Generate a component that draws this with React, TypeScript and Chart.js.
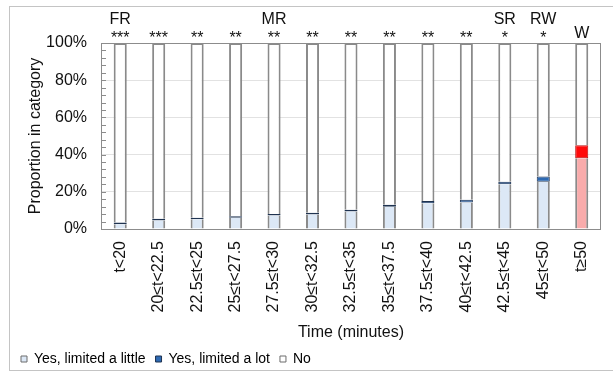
import React, { useEffect, useRef } from 'react';
import { Chart, registerables } from 'chart.js';

Chart.register(...registerables);

const categories = [
  't<20', '20≤t<22.5', '22.5≤t<25', '25≤t<27.5', '27.5≤t<30', '30≤t<32.5',
  '32.5≤t<35', '35≤t<37.5', '37.5≤t<40', '40≤t<42.5', '42.5≤t<45', '45≤t<50', 't≥50',
];
const limitedLittle = [2.6, 4.6, 5.2, 6.0, 7.3, 7.8, 9.4, 12.0, 13.8, 14.3, 24.0, 25.4, 38.0];
const limitedLot = [0.9, 0.9, 0.8, 0.8, 0.7, 0.9, 0.9, 1.1, 1.3, 1.4, 1.4, 2.8, 7.0];
const noLimit = categories.map((_, i) => 100 - limitedLittle[i] - limitedLot[i]);

const seriesNames = ['Yes, limited a little', 'Yes, limited a lot', 'No'];
const groupLabels = ['FR', '', '', '', 'MR', '', '', '', '', '', 'SR', 'RW', 'W'];
const significance = ['***', '***', '**', '**', '**', '**', '**', '**', '**', '**', '*', '*', ''];
const yTicks = [0, 20, 40, 60, 80, 100];
const minorStep = 4;

const FONT = '"Liberation Sans", Arial, sans-serif';
const lightBlue = '#dce8f6';
const pink = '#f9abab';
const midBlue = '#2e6ab3';
const red = '#ff0a0a';
const frameColor = '#8c8c8c';
const barEdge = '#8a8a8a';

const lastIdx = categories.length - 1;
const littleFill = categories.map((_, i) => (i === lastIdx ? pink : lightBlue));
const lotFill = categories.map((_, i) => (i === lastIdx ? red : midBlue));
const lotEdge = categories.map((_, i) => (i === lastIdx ? '#b81010' : '#1f3350'));

const annotationPlugin = {
  id: 'annotations',
  afterDraw(chart: any) {
    const { ctx, chartArea } = chart;
    const x = chart.scales.x;
    const y = chart.scales.y;
    ctx.save();
    ctx.strokeStyle = frameColor;
    ctx.lineWidth = 1;
    ctx.strokeRect(
      Math.round(chartArea.left) + 0.5,
      Math.round(chartArea.top) + 0.5,
      Math.round(chartArea.right - chartArea.left) - 1,
      Math.round(chartArea.bottom - chartArea.top)
    );
    ctx.beginPath();
    for (let v = 0; v <= 100; v += minorStep) {
      const py = Math.round(y.getPixelForValue(v)) + 0.5;
      ctx.moveTo(chartArea.left, py);
      ctx.lineTo(chartArea.left + 5, py);
    }
    ctx.stroke();
    ctx.fillStyle = '#111';
    ctx.textAlign = 'center';
    ctx.textBaseline = 'alphabetic';
    ctx.font = `16px ${FONT}`;
    categories.forEach((_, i) => {
      const cx = x.getPixelForValue(i);
      if (significance[i]) ctx.fillText(significance[i], cx, chartArea.top);
      if (groupLabels[i]) {
        ctx.fillText(groupLabels[i], cx, significance[i] ? chartArea.top - 19 : chartArea.top - 5);
      }
    });
    ctx.restore();
  },
};

export default function App() {
  const ref = useRef<HTMLCanvasElement>(null);
  useEffect(() => {
    if (!ref.current) return;
    const common = {
      borderSkipped: false,
      barPercentage: 0.34,
      categoryPercentage: 1,
      stack: 's',
    };
    const chart = new Chart(ref.current, {
      type: 'bar',
      data: {
        labels: categories,
        datasets: [
          { ...common, label: seriesNames[0], data: limitedLittle, backgroundColor: littleFill, borderColor: barEdge, borderWidth: { left: 2, right: 2, top: 0, bottom: 0 } },
          { ...common, label: seriesNames[1], data: limitedLot, backgroundColor: lotFill, borderColor: lotEdge, borderWidth: 1 },
          { ...common, label: seriesNames[2], data: noLimit, backgroundColor: '#ffffff', borderColor: barEdge, borderWidth: { left: 2, right: 2, top: 2, bottom: 0 } },
        ],
      } as any,
      options: {
        animation: false,
        responsive: false,
        maintainAspectRatio: false,
        devicePixelRatio: 1,
        layout: { padding: { left: 11, right: 2, top: 43, bottom: -3 } },
        plugins: {
          tooltip: { enabled: false },
          legend: {
            position: 'bottom',
            align: 'start',
            labels: {
              font: { size: 14, family: FONT },
              color: '#111',
              boxWidth: 6,
              boxHeight: 6,
              padding: 10,
              generateLabels: () => [
                { text: seriesNames[0], fillStyle: lightBlue, strokeStyle: '#6d6d6d', lineWidth: 1, hidden: false, datasetIndex: 0 },
                { text: seriesNames[1], fillStyle: midBlue, strokeStyle: '#1f3350', lineWidth: 1, hidden: false, datasetIndex: 1 },
                { text: seriesNames[2], fillStyle: '#ffffff', strokeStyle: '#6d6d6d', lineWidth: 1, hidden: false, datasetIndex: 2 },
              ],
            },
          },
        },
        scales: {
          x: {
            stacked: true,
            grid: { display: false, drawTicks: false },
            border: { display: true, color: frameColor },
            ticks: {
              minRotation: 90,
              maxRotation: 90,
              autoSkip: false,
              padding: 12,
              color: '#111',
              font: { size: 16, family: FONT },
            },
            title: {
              display: true,
              text: 'Time (minutes)',
              color: '#111',
              font: { size: 16, family: FONT },
              padding: { top: 0, bottom: 0 },
            },
            afterFit: (s: any) => { s.height = 113; },
          },
          y: {
            stacked: true,
            min: 0,
            max: 100,
            afterBuildTicks: (s: any) => { s.ticks = yTicks.map((v) => ({ value: v })); },
            grid: {
              drawTicks: false,
              color: (c: any) => (c.tick && (c.tick.value === 0 || c.tick.value === 100) ? 'rgba(0,0,0,0)' : '#e2e2e2'),
            },
            border: { display: true, color: frameColor },
            ticks: {
              padding: 14,
              color: '#111',
              font: { size: 16, family: FONT },
              callback: (v: any) => `${v}%`,
            },
            title: {
              display: true,
              text: 'Proportion in category',
              color: '#111',
              font: { size: 16, family: FONT },
              padding: { top: 15, bottom: 0 },
            },
            afterFit: (s: any) => { s.width = 90; },
          },
        },
      } as any,
      plugins: [annotationPlugin],
    });
    return () => chart.destroy();
  }, []);

  return (
    <div style={{ position: 'fixed', left: 0, top: 0, width: 613, height: 373, background: '#fff', overflow: 'hidden' }}>
      <div style={{ position: 'absolute', left: 9, top: 6, width: 620, height: 363, border: '1px solid #c4c4c4' }} />
      <canvas ref={ref} width={613} height={373} style={{ position: 'absolute', left: 0, top: 0 }} />
    </div>
  );
}
